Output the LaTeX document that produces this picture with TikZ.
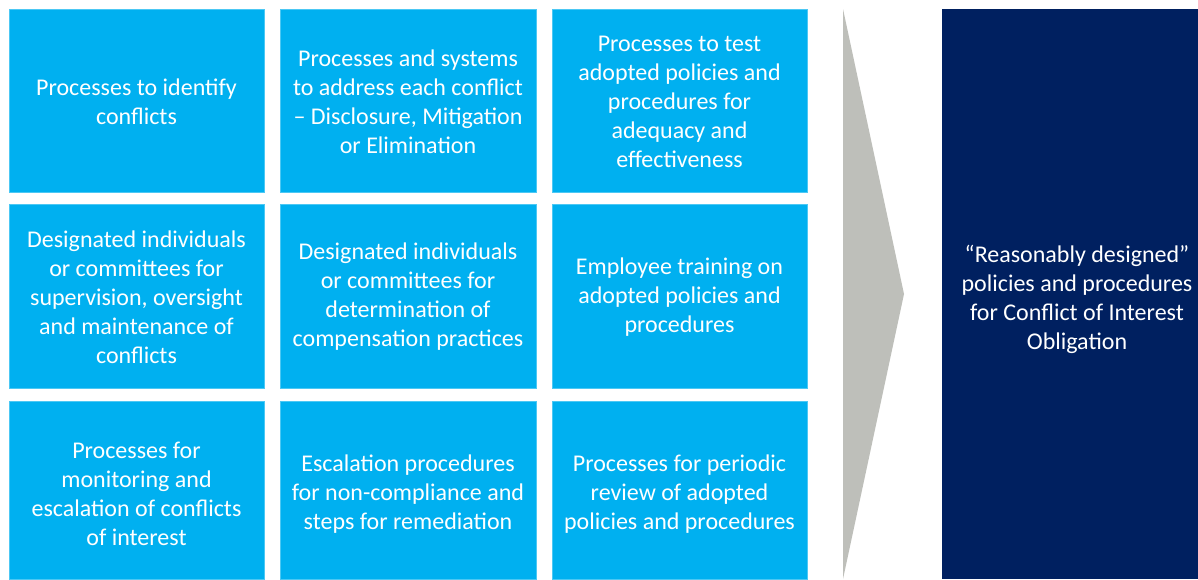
\documentclass[tikz,border=0pt]{standalone}
\usepackage{fontspec}
\setmainfont{Carlito}
\definecolor{lblue}{RGB}{0,176,240}
\definecolor{navy}{RGB}{0,32,96}
\definecolor{arrgray}{RGB}{190,191,186}
\begin{document}
\begin{tikzpicture}[x=0.75pt,y=-0.75pt,
  cell/.style={fill=lblue, draw=lblue!70!white, line width=0.4pt, inner sep=0pt},
  txt/.style={align=center, text=white, inner sep=0pt, font=\fontsize{18}{21.75}\selectfont},
  r1/.style={minimum height=137.25pt},
  r2/.style={minimum height=138pt},
  r3/.style={minimum height=133.5pt},
  wa/.style={minimum width=191.25pt},
  wb/.style={minimum width=192pt},
  goal/.style={fill=navy, inner sep=0pt, minimum width=192pt, minimum height=427.5pt}]
\useasboundingbox[fill=white] (0,0) rectangle (1198,579);
% row 1
\node[cell, wa, r1, label={[txt, yshift=-0.75pt]center:{Processes to identify\\conflicts}}] (a1) at (136.5,100.5) {};
\node[cell, wb, r1, label={[txt, yshift=-0.75pt]center:{Processes and systems\\to address each conflict\\– Disclosure, Mitigation\\or Elimination}}] (a2) at (408,100.5) {};
\node[cell, wa, r1, label={[txt, yshift=-0.75pt]center:{Processes to test\\adopted policies and\\procedures for\\adequacy and\\effectiveness}}] (a3) at (679.5,100.5) {};
% row 2
\node[cell, wa, r2, label={[txt, yshift=-0.75pt]center:{Designated individuals\\or committees for\\supervision, oversight\\and maintenance of\\conflicts}}] (b1) at (136.5,296) {};
\node[cell, wb, r2, label={[txt, yshift=-0.75pt]center:{Designated individuals\\or committees for\\determination of\\compensation practices}}] (b2) at (408,296) {};
\node[cell, wa, r2, label={[txt, yshift=-0.75pt]center:{Employee training on\\adopted policies and\\procedures}}] (b3) at (679.5,296) {};
% row 3
\node[cell, wa, r3, label={[txt, yshift=-3pt]center:{Processes for\\monitoring and\\escalation of conflicts\\of interest}}] (c1) at (136.5,490) {};
\node[cell, wb, r3, label={[txt, yshift=-3pt]center:{Escalation procedures\\for non-compliance and\\steps for remediation}}] (c2) at (408,490) {};
\node[cell, wa, r3, label={[txt, yshift=-3pt]center:{Processes for periodic\\review of adopted\\policies and procedures}}] (c3) at (679.5,490) {};
% arrow
\fill[arrgray] (843,9) -- (904,294) -- (843,579) -- cycle;
% goal
\node[goal, label={[txt, yshift=-3.75pt, xshift=5.25pt]center:{“Reasonably designed”\\policies and procedures\\for Conflict of Interest\\Obligation}}] (g) at (1070,294) {};
\end{tikzpicture}
\end{document}
